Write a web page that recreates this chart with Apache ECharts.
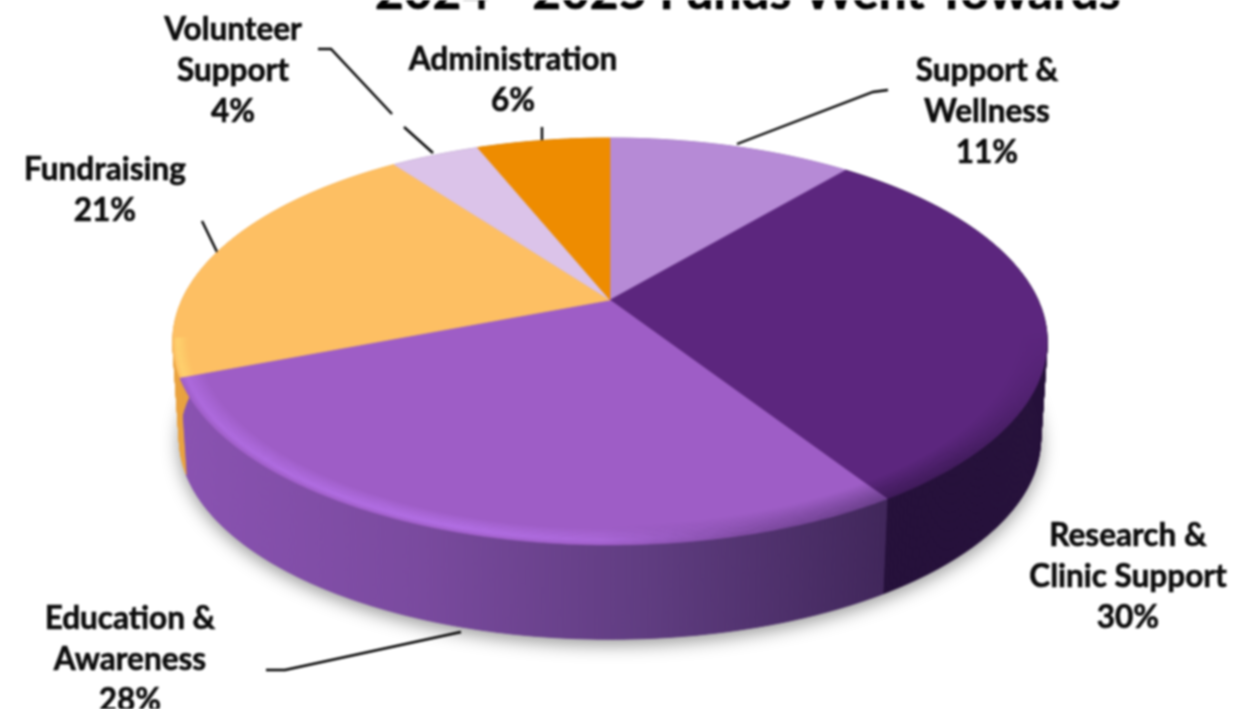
<!DOCTYPE html>
<html><head><meta charset="utf-8">
<style>html,body{margin:0;padding:0;background:#fff;overflow:hidden}#c{width:1234px;height:709px;filter:blur(1px)}</style>
<script src="https://cdn.jsdelivr.net/npm/echarts@6/dist/echarts.min.js"></script>
</head><body><div id="c"></div>
<script>
const titleText = '2024 - 2025 Funds Went Towards';
const categories = ['Support &\nWellness','Research &\nClinic Support','Education &\nAwareness','Fundraising','Volunteer\nSupport','Administration'];
const shares = [11,30,28,21,4,6];
const topColors = ['#B68AD6','#5C267E','#9E5DC6','#FDBF63','#DBC3E9','#EE8C00'];
const sideColors = [
  ['#8a62a8','#8a62a8'],['#26103C','#25103A'],['#8A52B2','#7A4A9F','#5F3C80','#40265A'],
  ['#E9A23F','#E9A23F'],['#a58fb5','#a58fb5'],['#b56a00','#b56a00']
];
const labelCentres = [[987,71],[1128,536],[130,619],[105,170],[233,30],[513,60]];
const leaders = [
  [[737,144],[873,92],[888,90]],
  [[266,670],[285,670],[461,632]],
  [[202,221],[218,254]],
  [[318,49],[331,49],[392,114]],
  [[404,127],[433,153]],
  [[542,127],[542,141]]
];
// perspective projection of the pie's circle
const P = {cx:610, cy:300, a:428, b:195, k:0.204, depth:98, shrink:0.985};
const total = shares.reduce((s,v)=>s+v,0);
const cum = shares.reduce((acc,v)=>{acc.push(acc[acc.length-1]+v);return acc;},[0]);
const ang = v => v/total*Math.PI*2;
function proj(th,r){
  const u=r*Math.sin(th), v=r*Math.cos(th), d=1+P.k*v;
  return [P.cx+P.a*u/d, P.cy-P.b*v/d];
}
function projBottom(th,r){
  const q=proj(th,r);
  return [P.cx+(q[0]-P.cx)*P.shrink, P.cy+P.depth+(q[1]-P.cy)*P.shrink];
}
function arc(fn,a0,a1,r){
  const n=Math.max(4,Math.ceil((a1-a0)/0.01)),o=[];
  for(let i=0;i<=n;i++) o.push(fn(a0+(a1-a0)*i/n,r));
  return o;
}
function hGrad(x0,x1,cols){
  return {type:'linear',x:x0,y:0,x2:x1,y2:0,global:true,
    colorStops:cols.map((c,i)=>({offset:i/(cols.length-1),color:c}))};
}
function vGrad(y0,y1,cols){
  return {type:'linear',x:0,y:y0,x2:0,y2:y1,global:true,
    colorStops:cols.map((c,i)=>({offset:i/(cols.length-1),color:c}))};
}
const rows = shares.map((v,i)=>({name:categories[i],value:v}));

function renderShadow(){
  return {type:'polygon',shape:{points:arc(projBottom,0,Math.PI*2,1)},
    style:{fill:'#888',shadowBlur:18,shadowColor:'rgba(0,0,0,0.42)',shadowOffsetY:5}};
}
function renderSide(params){
  const i=params.dataIndex,a0=ang(cum[i]),a1=ang(cum[i+1]);
  const t=arc(proj,a0,a1,1),b=arc(projBottom,a0,a1,1),kids=[];
  const fill=hGrad(180,888,sideColors[i]);
  // sweep the rim downwards so the silhouette stays a straight tangent
  for(let j=0;j<t.length-1;j++){
    kids.push({type:'polygon',shape:{points:[t[j],t[j+1],b[j+1],b[j]]},
      style:{fill:fill,stroke:fill,lineWidth:0.8}});
  }
  return {type:'group',children:kids};
}
// soft bevel: many thin arcs whose opacity follows a bell between two radii
function bevel(kids,a0,a1,rOuter,rInner,peakAt,peak,strokeFor){
  const steps=Math.round((rOuter-rInner)/0.004);
  for(let s=0;s<=steps;s++){
    const r=rOuter-(rOuter-rInner)*s/steps;
    const d=r>peakAt?(rOuter-r)/(rOuter-peakAt):(r-rInner)/(peakAt-rInner);
    const o=(peak*Math.max(0,d)).toFixed(3);
    kids.push({type:'polyline',shape:{points:arc(proj,a0,a1,r)},
      style:{fill:'none',stroke:strokeFor(o),lineWidth:1.6}});
  }
}
function renderTop(params){
  const i=params.dataIndex,a0=ang(cum[i]),a1=ang(cum[i+1]);
  const pts=[[P.cx,P.cy]].concat(arc(proj,a0,a1,1));
  const kids=[{type:'polygon',shape:{points:pts},style:{fill:topColors[i],stroke:topColors[i],lineWidth:0.6}}];
  if(i===2){
    bevel(kids,a0,a1,1,0.945,0.985,0.45,o=>hGrad(180,760,[`rgba(195,125,255,${o})`,`rgba(195,125,255,${o})`,'rgba(195,125,255,0)']));
    bevel(kids,a0,a1,1.0,0.93,1.0,0.5,o=>hGrad(600,888,['rgba(55,32,80,0)',`rgba(55,32,80,${o})`]));
  }
  if(i===1){
    bevel(kids,a0,a1,1.0,0.93,1.0,0.5,o=>vGrad(330,460,['rgba(35,15,55,0)',`rgba(35,15,55,${o})`]));
  }
  if(i===3){
    bevel(kids,a0,ang(cum[3]+3),1.0,0.965,0.99,0.6,o=>`rgba(255,225,120,${o})`);
  }
  return {type:'group',children:kids};
}
const graphics = [];
leaders.forEach(pts=>graphics.push({type:'polyline',silent:true,shape:{points:pts},
  style:{fill:'none',stroke:'#000',lineWidth:2.4}}));
rows.forEach((r,i)=>{
  graphics.push({type:'text',silent:true,x:labelCentres[i][0],y:labelCentres[i][1]-20.5,
    style:{text:r.name+'\n'+r.value+'%',font:'bold 31.5px Lato',fill:'#0c0c0c',stroke:'#0c0c0c',lineWidth:0.6,
      align:'center',verticalAlign:'top',lineHeight:41}});
});
const chart = echarts.init(document.getElementById('c'),null,{renderer:'canvas'});
chart.setOption({
  animation:false,
  backgroundColor:'#fff',
  title:{text:titleText,left:375,top:-32,padding:0,
    textStyle:{fontFamily:'Lato',fontWeight:'bold',fontSize:49.5,color:'#000',textBorderColor:'#000',textBorderWidth:0.6}},
  graphic:graphics,
  series:[
    {type:'custom',coordinateSystem:'none',silent:true,data:[1],renderItem:renderShadow},
    {type:'custom',coordinateSystem:'none',silent:true,data:rows,renderItem:renderSide},
    {type:'custom',coordinateSystem:'none',silent:true,data:rows,renderItem:renderTop}
  ]
});
</script></body></html>
